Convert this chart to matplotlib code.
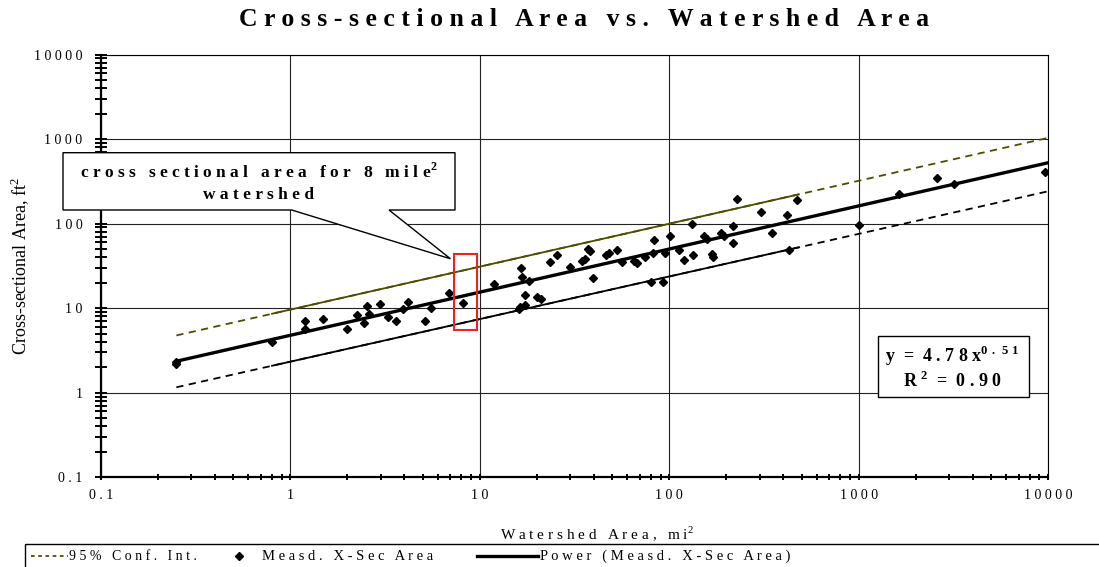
import numpy as np
import matplotlib
matplotlib.use("Agg")
import matplotlib.pyplot as plt
from matplotlib.lines import Line2D
from matplotlib.patches import Polygon, Rectangle
from matplotlib.ticker import LogLocator, FuncFormatter

plt.rcParams['font.family'] = ['Liberation Serif', 'DejaVu Serif']
plt.rcParams['mathtext.fontset'] = 'custom'
plt.rcParams['mathtext.rm'] = 'Liberation Serif'
plt.rcParams['mathtext.bf'] = 'Liberation Serif:bold'

watershed_area = [0.25, 0.25, 0.8, 1.2, 1.2, 1.49, 2.0, 2.24, 2.45, 2.53,
                  2.61, 2.99, 3.28, 3.6, 3.95, 4.19, 5.14, 5.5, 6.85, 8.13,
                  11.9, 16.6, 16.8, 18.2, 17.3, 20.0, 21.0, 16.3, 17.3, 16.2,
                  23.5, 25.5, 30.0, 34.5, 36, 37.4, 38.2, 39.8, 46.5, 48.2,
                  53.3, 56.2, 64.8, 67.4, 74.6, 80, 93.2, 83.5, 82.6, 95.1,
                  101, 113, 120, 132, 134, 152, 158, 187.5, 194, 168,
                  170, 217, 218, 228, 305, 348, 418, 427, 472, 1000,
                  1644, 2594, 3200, 9700]
xsec_area = [2.3, 2.2, 4.0, 7.0, 5.7, 7.5, 5.7, 8.2, 6.6, 10.5,
             8.6, 11.3, 7.8, 7.0, 9.7, 11.7, 7.0, 10.1, 15.0, 11.5,
             19.1, 30, 23.3, 20.8, 14.4, 13.7, 12.9, 10.3, 10.8, 9.7,
             34.7, 42, 31.1, 36, 37.7, 50.4, 47.2, 22.6, 42.4, 45.2,
             48.1, 34.7, 36.6, 34.0, 40.1, 20.5, 20.3, 64.4, 44.7, 44.7,
             71.8, 48.1, 37.3, 99.5, 43.1, 71, 66, 77.9, 72.3, 44,
             40, 93.2, 59.3, 193, 136, 77, 127, 48.1, 188, 97.6,
             225, 344, 295, 405]

# power fit y = 4.78 x^0.51
coef = 4.78
expo = 0.51
r2 = 0.90
fit_x = np.array([0.25, 10000])

# 95% confidence lines (end points) and the part drawn solid
conf_x = [0.25, 10000]
conf_upper = [4.76, 1033]
conf_lower = [1.16, 241]
solid_x = [0.8, 480]

# highlighted 8 mi2 watershed
box_x = [7.33, 9.63]
box_y = [5.45, 44]

W, H = 1099, 567
fig = plt.figure(figsize=(W / 100, H / 100), dpi=100)


def px(x, y):
    return x / W, 1 - y / H


def spread(s):
    # the original chart letter-spaces its text
    return '   '.join(' '.join(w) for w in s.split(' '))


ax = fig.add_axes([101 / W, 1 - 477.3 / H, (1048 - 101) / W, (477.3 - 54.5) / H])
ax.set_xscale('log')
ax.set_yscale('log')
ax.set_xlim(0.1, 10000)
ax.set_ylim(0.1, 10000)

ax.grid(True, which='major', color='#222222', lw=0.8)
ax.set_axisbelow(True)

olive = '#4d4d00'


def conf_line(yv, color):
    lx = np.log10(conf_x)
    ly = np.log10(yv)
    ax.plot(conf_x, yv, color=color, lw=1.3, dashes=(4, 3))
    sx = np.array(solid_x)
    sy = 10 ** np.interp(np.log10(sx), lx, ly)
    ax.plot(sx, sy, color=color, lw=1.3)


conf_line(conf_upper, olive)
conf_line(conf_lower, 'black')
ax.plot(fit_x, coef * fit_x ** expo, color='black', lw=2.4)
ax.plot(watershed_area, xsec_area, 'D', color='black', ms=4.5, ls='none')

ax.add_patch(Rectangle((box_x[0], box_y[0]), box_x[1] - box_x[0], box_y[1] - box_y[0],
                       fill=False, edgecolor='#ee2222', lw=1.5, zorder=5))

ax.xaxis.set_major_locator(LogLocator(base=10, numticks=10))
ax.yaxis.set_major_locator(LogLocator(base=10, numticks=10))
ax.xaxis.set_minor_locator(LogLocator(base=10, subs=np.arange(2, 10), numticks=30))
ax.yaxis.set_minor_locator(LogLocator(base=10, subs=np.arange(2, 10), numticks=30))
fmt = FuncFormatter(lambda v, p: ' '.join(f'{v:g}'))
ax.xaxis.set_major_formatter(fmt)
ax.yaxis.set_major_formatter(fmt)
ax.tick_params(axis='x', which='both', direction='inout', length=4.5, width=1.4,
               labelsize=10, pad=6.5)
ax.tick_params(axis='y', which='both', direction='inout', length=8.6, width=1.4,
               labelsize=10, pad=9)
ax.tick_params(which='minor', labelleft=False, labelbottom=False)
for side in ['left', 'bottom']:
    ax.spines[side].set_linewidth(1.6)
for side in ['top', 'right']:
    ax.spines[side].set_linewidth(0.8)

# title and axis titles
fig.text(584 / W, 1 - 20 / H, spread('Cross-sectional Area vs. Watershed Area'),
         ha='center', va='center', fontsize=18.5, fontweight='bold')
fig.text(20 / W, 1 - 266 / H, 'Cross-sectional Area, ft$^2$', rotation=90,
         ha='center', va='center', fontsize=13)
fig.text(597 / W, 1 - 534 / H, ' '.join('Watershed Area, mi') + '$^2$',
         ha='center', va='center', fontsize=11)

# callout for the 8 mi2 watershed
tip = fig.transFigure.inverted().transform(ax.transData.transform((7.0, 38.4)))
callout = [px(63, 152.7), px(455, 152.7), px(455, 210), px(389, 210), tuple(tip),
           px(291.7, 210), px(63, 210)]
fig.add_artist(Polygon(callout, closed=True, transform=fig.transFigure,
                       facecolor='white', edgecolor='black', lw=1.0, zorder=6))
fig.text(*px(259, 172), spread('cross sectional area for 8 mile') + '$^{\\mathbf{2}}$',
         ha='center', va='center', fontsize=12.5, fontweight='bold', zorder=7)
fig.text(*px(259, 195), spread('watershed'), ha='center', va='center',
         fontsize=12.5, fontweight='bold', zorder=7)

# equation box
fig.add_artist(Rectangle(px(877.7, 396.7), (1029.3 - 877.7) / W, (396.7 - 336) / H,
                         transform=fig.transFigure, facecolor='white',
                         edgecolor='black', lw=1.0, zorder=6))
fig.text(*px(952, 356), 'y  =  ' + ' '.join(f'{coef:.2f}') + ' x'
         + r'$^{\mathbf{' + r'\ '.join(f'{expo:.2f}') + '}}$',
         ha='center', va='center', fontsize=13, fontweight='bold', zorder=7)
fig.text(*px(952, 381), 'R $^{\\mathbf{2}}$  =  ' + ' '.join(f'{r2:.2f}'),
         ha='center', va='center', fontsize=13, fontweight='bold', zorder=7)

# legend strip along the bottom
fig.add_artist(Rectangle(px(25, 600), (1120 - 25) / W, (600 - 544) / H,
                         transform=fig.transFigure, facecolor='white',
                         edgecolor='black', lw=1.0))
ly = 556
fig.add_artist(Line2D([31 / W, 68 / W], [1 - ly / H] * 2, color=olive, lw=1.3,
                      dashes=(2, 2), transform=fig.transFigure))
fig.text(*px(69, ly), ' '.join('95% Conf. Int.'), ha='left', va='center', fontsize=10)
fig.add_artist(Line2D([239 / W], [1 - ly / H], marker='D', color='black', ms=4,
                      ls='none', transform=fig.transFigure))
fig.text(*px(262, ly), ' '.join('Measd. X-Sec Area'), ha='left', va='center',
         fontsize=10.5)
fig.add_artist(Line2D([477 / W, 538 / W], [1 - ly / H] * 2, color='black', lw=2.4,
                      transform=fig.transFigure))
fig.text(*px(540, ly), ' '.join('Power (Measd. X-Sec Area)'), ha='left', va='center',
         fontsize=10.5)

fig.savefig('out.png', dpi=100)
